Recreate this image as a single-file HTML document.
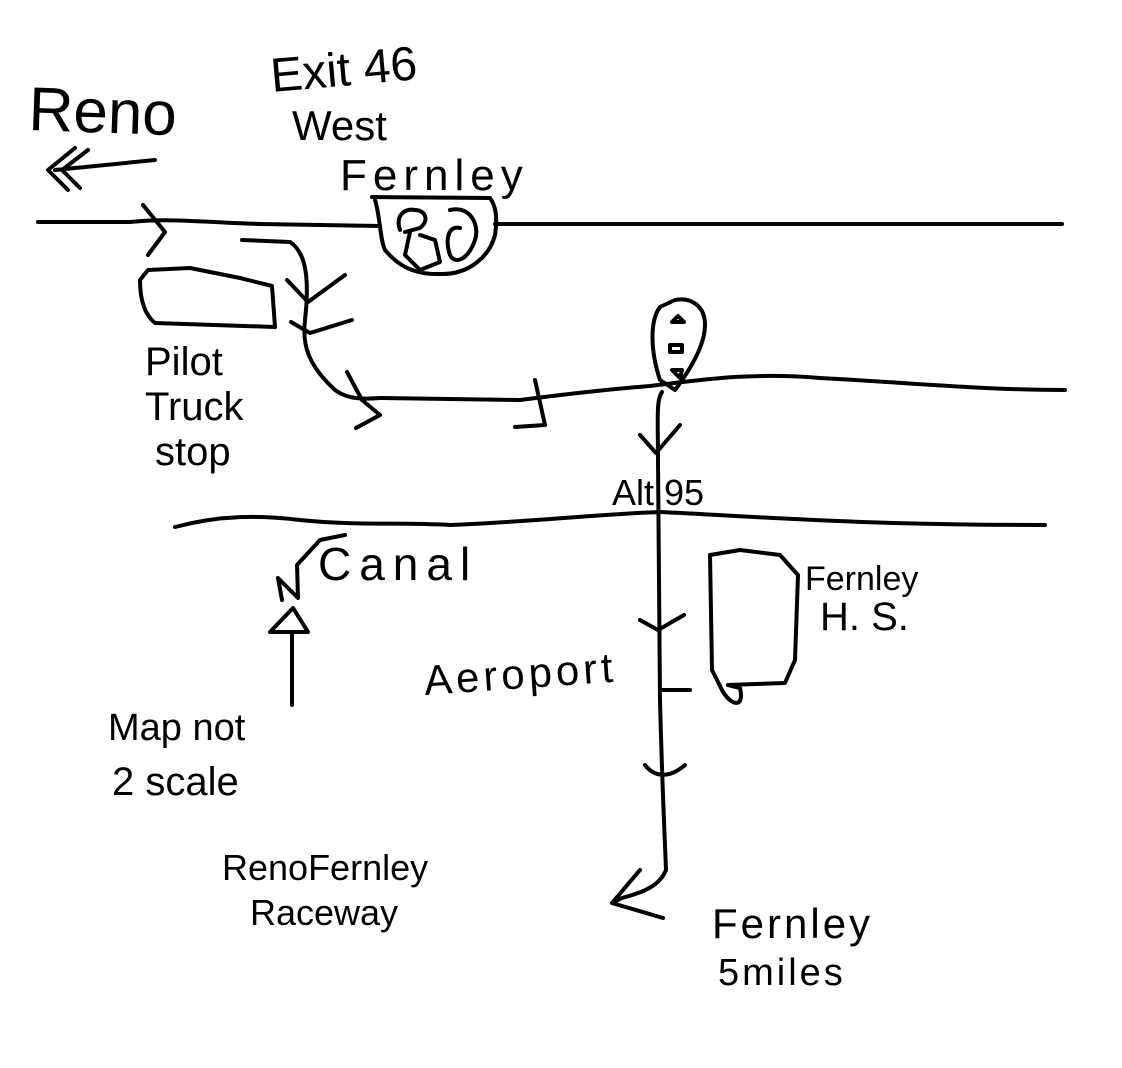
<!DOCTYPE html>
<html><head><meta charset="utf-8"><style>
html,body{margin:0;padding:0;background:#fff;}
svg{display:block}
text{font-family:"Liberation Sans",sans-serif;fill:#000;}
</style></head><body>
<svg width="1122" height="1068" viewBox="0 0 1122 1068" xmlns="http://www.w3.org/2000/svg">
<g fill="none" stroke="#000" stroke-width="4" stroke-linecap="round" stroke-linejoin="round">
<path d="M38 222 L130 222 C170 218 200 222 260 224 L380 226 M495 224 L1062 224"/>
<path d="M155 160 L55 170 M75 148 L48 170 L68 190 M88 150 L62 170 L80 188"/>
<path d="M143 205 L165 232 L148 255"/>
<path d="M148 270 L140 280 C140 300 145 315 155 323 L275 327 L272 286 L240 278 L190 268 Z"/>
<path d="M242 240 L290 242 C305 252 310 275 305 320 C302 345 308 365 335 390 C345 397 355 400 380 398 L520 400 C560 395 600 390 650 386 C700 380 750 372 820 378 C900 382 980 390 1065 390"/>
<path d="M287 280 L308 302 L345 275 M291 322 L310 333 L352 320"/>
<path d="M347 372 L362 400 L380 415 L356 428 M535 380 L545 425 L515 427"/>
<path d="M372 197 L490 198 M375 200 C380 215 380 240 385 250 C395 262 410 275 440 274 C470 275 490 255 495 235 C498 215 495 205 490 198"/>
<path d="M400 230 C395 215 405 208 415 210 C425 210 430 220 420 228 L405 232 M410 232 L405 255 L420 270 L440 262 L435 240 L420 235"/>
<path d="M450 210 C470 205 480 225 475 240 C468 260 455 265 450 255 C445 240 448 225 460 228"/>
<path d="M660 307 C650 320 650 350 660 380 L675 390 C690 370 705 345 705 325 C705 305 690 297 675 300 Z"/>
<path d="M672 322 L684 322 L678 316 Z M670 345 L682 345 L682 352 L670 352 Z M672 370 L682 370 L680 378 Z"/>
<path d="M175 527 C220 515 260 515 300 520 C360 526 400 522 450 525 C530 522 600 514 660 512 C750 516 850 525 1045 525"/>
<path d="M662 392 C656 400 658 420 658 460 L660 700 C662 780 664 820 666 870 C660 885 645 892 622 898 L612 903 L663 918 M612 903 L640 870"/>
<path d="M640 435 L656 453 L680 425 M640 620 L658 630 L684 615 M645 765 C655 778 670 778 685 765 M660 690 L690 690"/>
<path d="M292 705 L292 635 M270 632 L293 608 L308 632 Z M282 600 L278 578 L298 598 L297 565 L320 540 L345 535"/>
<path d="M710 555 L712 670 L722 690 C730 705 745 710 740 688 L728 685 L785 683 L795 660 L798 575 L780 555 L740 550 Z"/>
</g>
<g>
<text x="28" y="130" font-size="62" transform="rotate(2 28 130)">Reno</text>
<text x="272" y="92" font-size="48" transform="rotate(-5 272 92)">Exit 46</text>
<text x="292" y="140" font-size="42">West</text>
<text x="340" y="190" font-size="44" letter-spacing="6">Fernley</text>
<text x="145" y="375" font-size="40">Pilot</text>
<text x="145" y="420" font-size="40">Truck</text>
<text x="155" y="465" font-size="40">stop</text>
<text x="612" y="505" font-size="36">Alt 95</text>
<text x="318" y="580" font-size="46" letter-spacing="8">Canal</text>
<text x="805" y="590" font-size="34">Fernley</text>
<text x="820" y="630" font-size="40">H. S.</text>
<text x="425" y="695" font-size="42" letter-spacing="4" transform="rotate(-4 425 695)">Aeroport</text>
<text x="108" y="740" font-size="38">Map not</text>
<text x="112" y="795" font-size="40">2 scale</text>
<text x="222" y="880" font-size="36">RenoFernley</text>
<text x="250" y="925" font-size="36">Raceway</text>
<text x="712" y="938" font-size="42" letter-spacing="3">Fernley</text>
<text x="718" y="985" font-size="38" letter-spacing="3">5miles</text>
</g>
</svg>
</body></html>
